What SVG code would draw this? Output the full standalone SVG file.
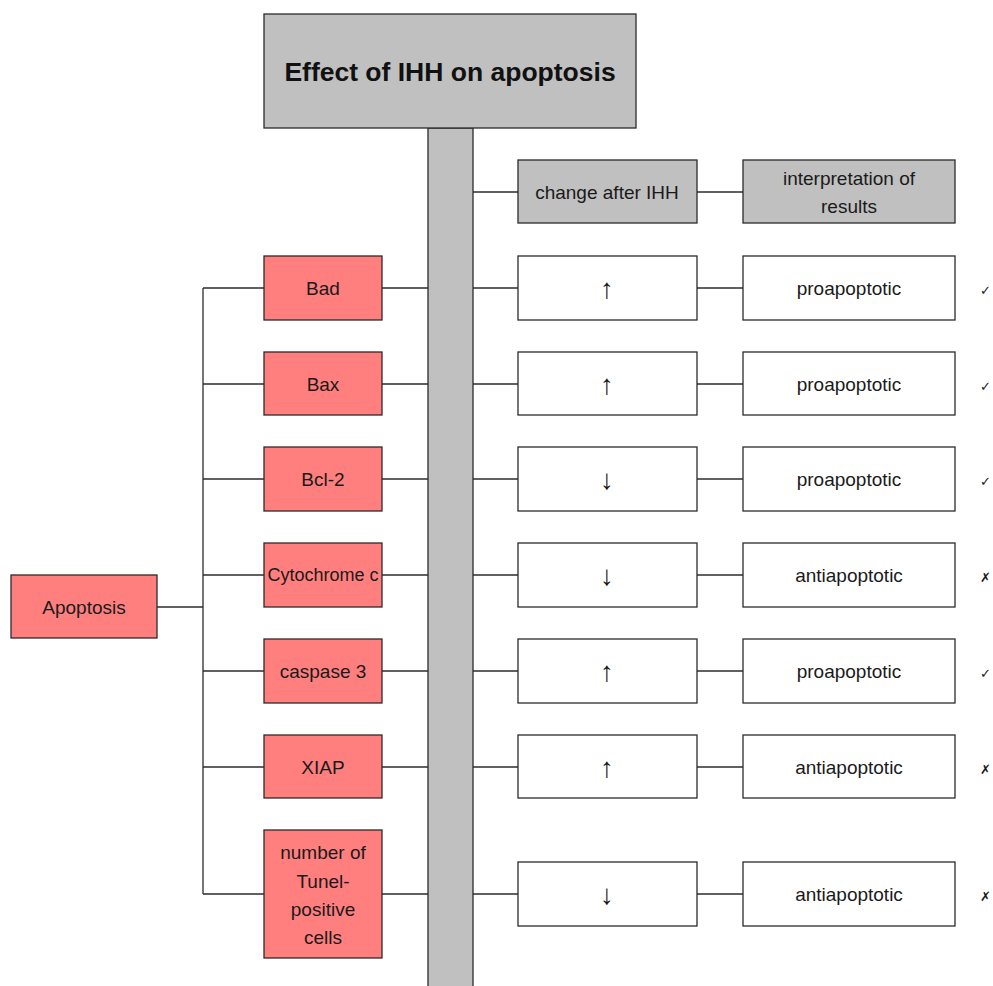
<svg xmlns="http://www.w3.org/2000/svg" width="993" height="986" viewBox="0 0 993 986">
<style>
.g{fill:#c0c0c0;stroke:#2b2b2b;stroke-width:1.3}
.p{fill:#ff7f7f;stroke:#2b2b2b;stroke-width:1.3}
.w{fill:#ffffff;stroke:#2b2b2b;stroke-width:1.3}
.t{font-family:"Liberation Sans",Arial,sans-serif;font-size:19px;fill:#1a1a1a;text-anchor:middle;dominant-baseline:central}
.a{font-family:"Liberation Sans",Arial,sans-serif;font-size:28px;fill:#1a1a1a;text-anchor:middle;dominant-baseline:central}
.m{font-family:"DejaVu Sans",sans-serif;font-size:13px;font-weight:bold;fill:#1a1a1a;dominant-baseline:central}
.c line{stroke:#2b2b2b;stroke-width:1.3}
</style>
<g id="connectors" class="c">
<line x1="157" y1="607" x2="203" y2="607"/>
<line x1="203" y1="288" x2="203" y2="894"/>
<line x1="203" y1="288" x2="264" y2="288"/>
<line x1="203" y1="384" x2="264" y2="384"/>
<line x1="203" y1="479" x2="264" y2="479"/>
<line x1="203" y1="575" x2="264" y2="575"/>
<line x1="203" y1="671" x2="264" y2="671"/>
<line x1="203" y1="767" x2="264" y2="767"/>
<line x1="203" y1="894" x2="264" y2="894"/>
<line x1="382" y1="288" x2="428" y2="288"/>
<line x1="382" y1="384" x2="428" y2="384"/>
<line x1="382" y1="479" x2="428" y2="479"/>
<line x1="382" y1="575" x2="428" y2="575"/>
<line x1="382" y1="671" x2="428" y2="671"/>
<line x1="382" y1="767" x2="428" y2="767"/>
<line x1="382" y1="894" x2="428" y2="894"/>
<line x1="473" y1="192" x2="518" y2="192"/>
<line x1="473" y1="288" x2="518" y2="288"/>
<line x1="473" y1="384" x2="518" y2="384"/>
<line x1="473" y1="479" x2="518" y2="479"/>
<line x1="473" y1="575" x2="518" y2="575"/>
<line x1="473" y1="671" x2="518" y2="671"/>
<line x1="473" y1="767" x2="518" y2="767"/>
<line x1="473" y1="894" x2="518" y2="894"/>
<line x1="697" y1="192" x2="743" y2="192"/>
<line x1="697" y1="288" x2="743" y2="288"/>
<line x1="697" y1="384" x2="743" y2="384"/>
<line x1="697" y1="479" x2="743" y2="479"/>
<line x1="697" y1="575" x2="743" y2="575"/>
<line x1="697" y1="671" x2="743" y2="671"/>
<line x1="697" y1="767" x2="743" y2="767"/>
<line x1="697" y1="894" x2="743" y2="894"/>
</g>
<g id="spine"><rect class="g" x="428" y="128" width="45" height="870"/></g>
<g id="title"><rect class="g" x="264" y="14" width="372" height="114"/>
<text x="450" y="72" style="font-family:'Liberation Sans',Arial,sans-serif;font-size:26.5px;font-weight:bold;fill:#111;text-anchor:middle;dominant-baseline:central">Effect of IHH on apoptosis</text></g>
<g id="apoptosis"><rect class="p" x="11" y="575" width="146" height="63"/><text class="t" x="84" y="607">Apoptosis</text></g>
<g id="hdr-change"><rect class="g" x="518" y="160" width="179" height="63"/><text class="t" x="607" y="192">change after IHH</text></g>
<g id="hdr-interp"><rect class="g" x="743" y="160" width="212" height="63"/><text class="t" x="849" y="178">interpretation of</text><text class="t" x="849" y="206">results</text></g>

<g id="bad"><rect class="p" x="264" y="256" width="118" height="64"/><text class="t" x="323" y="288">Bad</text></g>
<g id="bax"><rect class="p" x="264" y="352" width="118" height="63"/><text class="t" x="323" y="384">Bax</text></g>
<g id="bcl2"><rect class="p" x="264" y="447" width="118" height="64"/><text class="t" x="323" y="479">Bcl-2</text></g>
<g id="cyto"><rect class="p" x="264" y="543" width="118" height="64"/><text class="t" x="323" y="575" style="font-size:18px">Cytochrome c</text></g>
<g id="casp3"><rect class="p" x="264" y="639" width="118" height="64"/><text class="t" x="323" y="671">caspase 3</text></g>
<g id="xiap"><rect class="p" x="264" y="735" width="118" height="63"/><text class="t" x="323" y="767">XIAP</text></g>
<g id="tunel"><rect class="p" x="264" y="830" width="118" height="128"/><text class="t" x="323" y="852">number of</text><text class="t" x="323" y="881">Tunel-</text><text class="t" x="323" y="909">positive</text><text class="t" x="323" y="937">cells</text></g>

<g id="ch-bad"><rect class="w" x="518" y="256" width="179" height="64"/><text class="a" x="607" y="288">↑</text></g>
<g id="ch-bax"><rect class="w" x="518" y="352" width="179" height="63"/><text class="a" x="607" y="384">↑</text></g>
<g id="ch-bcl2"><rect class="w" x="518" y="447" width="179" height="64"/><text class="a" x="607" y="479">↓</text></g>
<g id="ch-cyto"><rect class="w" x="518" y="543" width="179" height="64"/><text class="a" x="607" y="575">↓</text></g>
<g id="ch-casp3"><rect class="w" x="518" y="639" width="179" height="64"/><text class="a" x="607" y="671">↑</text></g>
<g id="ch-xiap"><rect class="w" x="518" y="735" width="179" height="63"/><text class="a" x="607" y="767">↑</text></g>
<g id="ch-tunel"><rect class="w" x="518" y="862" width="179" height="64"/><text class="a" x="607" y="894">↓</text></g>

<g id="in-bad"><rect class="w" x="743" y="256" width="212" height="64"/><text class="t" x="849" y="288">proapoptotic</text><text class="m" x="980" y="290">✓</text></g>
<g id="in-bax"><rect class="w" x="743" y="352" width="212" height="63"/><text class="t" x="849" y="384">proapoptotic</text><text class="m" x="980" y="386">✓</text></g>
<g id="in-bcl2"><rect class="w" x="743" y="447" width="212" height="64"/><text class="t" x="849" y="479">proapoptotic</text><text class="m" x="980" y="481">✓</text></g>
<g id="in-cyto"><rect class="w" x="743" y="543" width="212" height="64"/><text class="t" x="849" y="575">antiapoptotic</text><text class="m" x="980" y="577">✗</text></g>
<g id="in-casp3"><rect class="w" x="743" y="639" width="212" height="64"/><text class="t" x="849" y="671">proapoptotic</text><text class="m" x="980" y="673">✓</text></g>
<g id="in-xiap"><rect class="w" x="743" y="735" width="212" height="63"/><text class="t" x="849" y="767">antiapoptotic</text><text class="m" x="980" y="769">✗</text></g>
<g id="in-tunel"><rect class="w" x="743" y="862" width="212" height="64"/><text class="t" x="849" y="894">antiapoptotic</text><text class="m" x="980" y="896">✗</text></g>
</svg>
